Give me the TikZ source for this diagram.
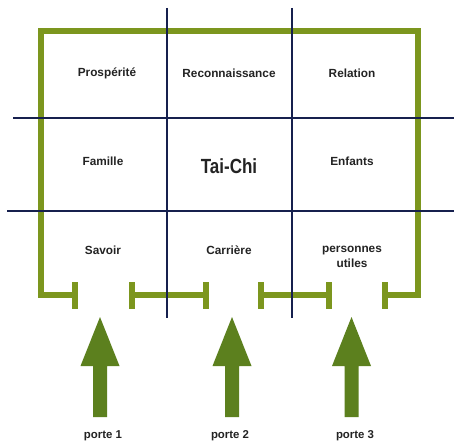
\documentclass[tikz,border=0pt]{standalone}
\usepackage{fontspec}
\setmainfont{Liberation Sans}
\begin{document}
\begin{tikzpicture}[x=1pt,y=-1pt,
  gridline/.style={draw=gridblue,line width=2.8pt},
  wall/.style={draw=wallgreen,line width=5.8pt},
  gatebar/.style={draw=wallgreen,line width=5.5pt},
  bigarrow/.style={fill=arrowgreen,draw=none},
  lbl/.style={font=\bfseries\fontsize{11.8}{14}\selectfont,text=textgray,align=center,inner sep=0pt}]
\definecolor{gridblue}{RGB}{22,32,78}
\definecolor{wallgreen}{RGB}{124,150,30}
\definecolor{arrowgreen}{RGB}{92,128,30}
\definecolor{textgray}{RGB}{35,35,35}
\useasboundingbox (0,0) rectangle (454,443);
\fill[white] (0,0) rectangle (454,443);
% green walls
\draw[wall,line join=miter] (75,295) -- (41,295) -- (41,31) -- (418,31) -- (418,295) -- (385,295);
\draw[wall] (132,295) -- (206,295);
\draw[wall] (261,295) -- (329,295);
\foreach \x in {75,132,206,261,329,385}{\draw[gatebar] (\x,282) -- (\x,309);}
% blue grid
\draw[gridline] (167,8) -- (167,318);
\draw[gridline] (292,8) -- (292,318);
\draw[gridline] (13,118) -- (454,118);
\draw[gridline] (7,211) -- (454,211);
% arrows
\foreach \cx/\n in {100/1,232/2,351.5/3}{
  \fill[bigarrow] (\cx,317) -- (\cx+19.5,366) -- (\cx+7,366) -- (\cx+7,417) -- (\cx-7,417) -- (\cx-7,366) -- (\cx-19.5,366) -- cycle;
}
% labels
\node[lbl] (pros) at (107,73) {Prospérité};
\node[lbl] (reco) at (229,73) {Reconnaissance};
\node[lbl] (rela) at (352,73) {Relation};
\node[lbl] (fam) at (103,161) {Famille};
\node[lbl,font=\bfseries\fontsize{20.5}{24}\selectfont] (tai) at (229,166) {\scalebox{0.83}[1]{Tai-Chi}};
\node[lbl] (enf) at (352,161) {Enfants};
\node[lbl] (sav) at (103,250) {Savoir};
\node[lbl] (car) at (229,250) {Carrière};
\node[lbl,font=\bfseries\fontsize{11.8}{14.5}\selectfont] (pers) at (352,257) {personnes\\utiles};
\node[lbl,font=\bfseries\fontsize{11.4}{14}\selectfont] (p1) at (103,436) {porte 1};
\node[lbl,font=\bfseries\fontsize{11.4}{14}\selectfont] (p2) at (230,436) {porte 2};
\node[lbl,font=\bfseries\fontsize{11.4}{14}\selectfont] (p3) at (355,436) {porte 3};
\end{tikzpicture}
\end{document}
